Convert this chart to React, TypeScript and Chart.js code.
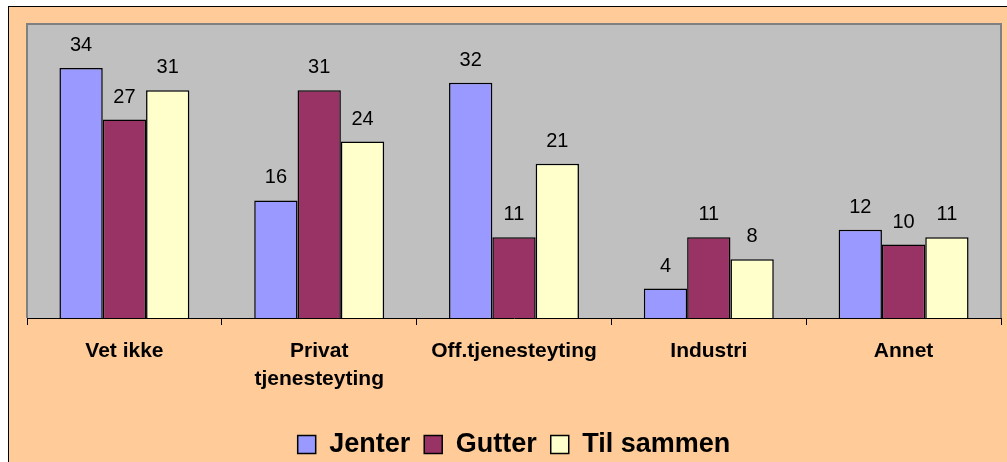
import React, { useEffect, useRef } from "react";
import { Chart, registerables } from "chart.js";

Chart.register(...registerables);

const categories: (string | string[])[] = [
  "Vet ikke",
  ["Privat", "tjenesteyting"],
  "Off.tjenesteyting",
  "Industri",
  "Annet",
];
const jenter = [34, 16, 32, 4, 12];
const gutter = [27, 31, 11, 11, 10];
const tilSammen = [31, 24, 21, 8, 11];

const FONT = "'Liberation Sans', Arial, Helvetica, sans-serif";

const plotBg = {
  id: "plotBg",
  beforeDraw(chart: any) {
    const { ctx, chartArea: a } = chart;
    ctx.save();
    ctx.fillStyle = "#C0C0C0";
    ctx.fillRect(a.left, a.top, a.right - a.left, a.bottom - a.top);
    ctx.strokeStyle = "#808080";
    ctx.lineWidth = 2;
    ctx.beginPath();
    ctx.moveTo(a.left, a.bottom);
    ctx.lineTo(a.left, a.top);
    ctx.lineTo(a.right, a.top);
    ctx.lineTo(a.right, a.bottom);
    ctx.stroke();
    ctx.restore();
  },
};

const valueLabels = {
  id: "valueLabels",
  afterDatasetsDraw(chart: any) {
    const { ctx } = chart;
    ctx.save();
    ctx.font = `20px ${FONT}`;
    ctx.fillStyle = "#000";
    ctx.textAlign = "center";
    ctx.textBaseline = "alphabetic";
    chart.data.datasets.forEach((ds: any, i: number) => {
      const meta = chart.getDatasetMeta(i);
      meta.data.forEach((el: any, j: number) => {
        ctx.fillText(String(ds.data[j]), el.x, el.y - 17);
      });
    });
    ctx.restore();
  },
};

export default function App() {
  const ref = useRef<HTMLCanvasElement | null>(null);
  useEffect(() => {
    document.body.style.overflow = "hidden";
    const chart = new Chart(ref.current as HTMLCanvasElement, {
      type: "bar",
      data: {
        labels: categories,
        datasets: [
          { label: "Jenter", data: jenter, backgroundColor: "#9999FF", borderColor: "#000", borderWidth: 1.5 },
          { label: "Gutter", data: gutter, backgroundColor: "#993366", borderColor: "#000", borderWidth: 1.5 },
          { label: "Til sammen", data: tilSammen, backgroundColor: "#FFFFCC", borderColor: "#000", borderWidth: 1.5 },
        ],
      },
      options: {
        animation: false,
        responsive: false,
        maintainAspectRatio: false,
        layout: { padding: { left: 18, right: 6, top: 17, bottom: 9 } },
        datasets: { bar: { categoryPercentage: 0.667, barPercentage: 1.0 } },
        scales: {
          y: { display: false, min: 0, max: 40 },
          x: {
            grid: { display: true, drawOnChartArea: false, drawTicks: true, tickLength: 7, color: "#000", offset: true },
            border: { display: true, color: "#000", width: 1 },
            ticks: {
              color: "#000",
              font: { family: FONT, size: 21, weight: "bold", lineHeight: 28 / 21 },
              padding: 12,
              maxRotation: 0,
              autoSkip: false,
            },
            afterFit: (scale: any) => {
              scale.height += 12;
            },
          },
        },
        plugins: {
          legend: {
            position: "bottom",
            labels: {
              color: "#000",
              boxWidth: 18,
              boxHeight: 18,
              padding: 14,
              font: { family: FONT, size: 27, weight: "bold" },
            },
          },
          tooltip: { enabled: false },
        },
      },
      plugins: [plotBg, valueLabels],
    });
    return () => chart.destroy();
  }, []);

  return (
    <div
      style={{
        position: "absolute",
        left: 8,
        top: 6,
        width: 999,
        height: 456,
        boxSizing: "border-box",
        borderTop: "1px solid #000",
        borderLeft: "1px solid #000",
        background: "#FFCC99",
        overflow: "hidden",
      }}
    >
      <canvas ref={ref} width={998} height={470} style={{ display: "block", width: 998, height: 470 }} />
    </div>
  );
}
